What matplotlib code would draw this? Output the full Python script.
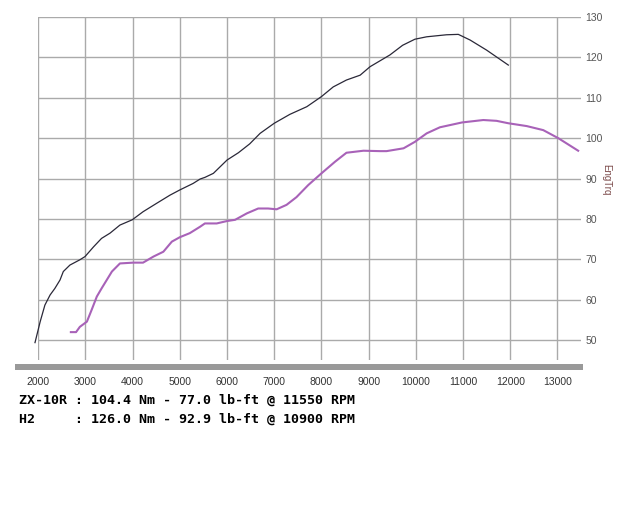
import matplotlib
matplotlib.use('Agg')
import matplotlib.pyplot as plt
from matplotlib.patches import Rectangle

# H2 (black curve)
h2_rpm = [1930, 2040, 2140, 2250, 2350, 2460, 2530, 2670, 2880, 2990, 3170, 3340,
          3520, 3730, 3990, 4220, 4510, 4790, 5000, 5140, 5280, 5430, 5530, 5710,
          6000, 6240, 6480, 6700, 7000, 7330, 7690, 8000, 8250, 8530, 8820, 9030,
          9450, 9720, 9980, 10230, 10650, 10900, 11150, 11500, 11960]
h2_trq = [49.4, 54.6, 58.7, 61.2, 62.8, 64.9, 67.0, 68.6, 69.9, 70.7, 73.1, 75.2,
          76.5, 78.5, 79.8, 81.8, 83.9, 85.9, 87.2, 88.0, 88.8, 89.9, 90.3, 91.3,
          94.6, 96.4, 98.6, 101.2, 103.7, 105.9, 107.8, 110.3, 112.7, 114.4, 115.6, 117.7,
          120.6, 123.0, 124.5, 125.1, 125.6, 125.7, 124.3, 121.8, 118.1]

# ZX-10R (purple curve)
zx_rpm = [2690, 2800, 2880, 3030, 3130, 3240, 3340, 3450, 3560, 3730, 4010, 4220,
          4440, 4650, 4830, 5000, 5210, 5430, 5530, 5780, 6000, 6170, 6420, 6660,
          6870, 7050, 7260, 7470, 7720, 8000, 8290, 8530, 8890, 9240, 9380, 9740,
          9980, 10230, 10510, 10980, 11430, 11710, 11960, 12350, 12700, 13020, 13440]
zx_trq = [52.0, 52.0, 53.3, 54.6, 57.5, 60.8, 62.8, 64.9, 67.0, 69.0, 69.2, 69.2,
          70.7, 71.9, 74.4, 75.5, 76.5, 78.1, 78.9, 78.9, 79.5, 79.8, 81.4, 82.6,
          82.6, 82.4, 83.5, 85.4, 88.4, 91.3, 94.2, 96.4, 96.9, 96.8, 96.8, 97.5,
          99.1, 101.2, 102.7, 103.9, 104.5, 104.3, 103.7, 103.0, 102.0, 100.0, 96.9]

x_ticks = list(range(2000, 14000, 1000))
y_ticks = list(range(50, 140, 10))

summary = [
    "ZX-10R : 104.4 Nm - 77.0 lb-ft @ 11550 RPM",
    "H2     : 126.0 Nm - 92.9 lb-ft @ 10900 RPM",
]

fig = plt.figure(figsize=(6.4, 5.12), dpi=100, facecolor="white")
ax = fig.add_axes([38.3 / 640, 1 - 360 / 512, (581 - 38.3) / 640, (360 - 17) / 512])
ax.set_xlim(2000, 13500)
ax.set_ylim(45.1, 130)

# grid: vertical lines only at the rpm ticks, horizontal lines across the full width
for xv in x_ticks:
    ax.axvline(xv, color="#aaaaaa", lw=1.0, zorder=1)
for yv in y_ticks:
    ax.axhline(yv, color="#aaaaaa", lw=1.0, zorder=1)

ax.plot(zx_rpm, zx_trq, color="#a862b8", lw=1.5, zorder=3, clip_on=False)
ax.plot(h2_rpm, h2_trq, color="#2a2838", lw=0.9, zorder=4, clip_on=False)

for spine in ax.spines.values():
    spine.set_visible(False)

ax.set_xticks(x_ticks)
ax.set_xticklabels([str(v) for v in x_ticks])
ax.set_yticks(y_ticks)
ax.set_yticklabels([str(v) for v in y_ticks])
ax.yaxis.tick_right()
ax.tick_params(axis="x", length=0, pad=12, labelsize=7.5, labelcolor="#333333")
ax.tick_params(axis="y", length=0, pad=3, labelsize=7.5, labelcolor="#555555")
for lbl in ax.get_xticklabels() + ax.get_yticklabels():
    lbl.set_family("Liberation Sans")

# grey base bar under the plot
fig.patches.append(Rectangle((15 / 640, 1 - 370 / 512), 568 / 640, 6 / 512,
                             transform=fig.transFigure, facecolor="#999999",
                             edgecolor="none", zorder=5))

fig.text(606 / 640, 1 - 180 / 512, "EngTrq", rotation=270, ha="center", va="center",
         fontsize=7, color="#7a4848", family="Liberation Sans")

for i, line in enumerate(summary):
    fig.text(19 / 640, 1 - (400 + 19 * i) / 512, line, ha="left", va="center",
             fontsize=9.6, fontweight="bold", family="DejaVu Sans Mono", color="black")

fig.savefig("out.png", dpi=100, facecolor="white")
